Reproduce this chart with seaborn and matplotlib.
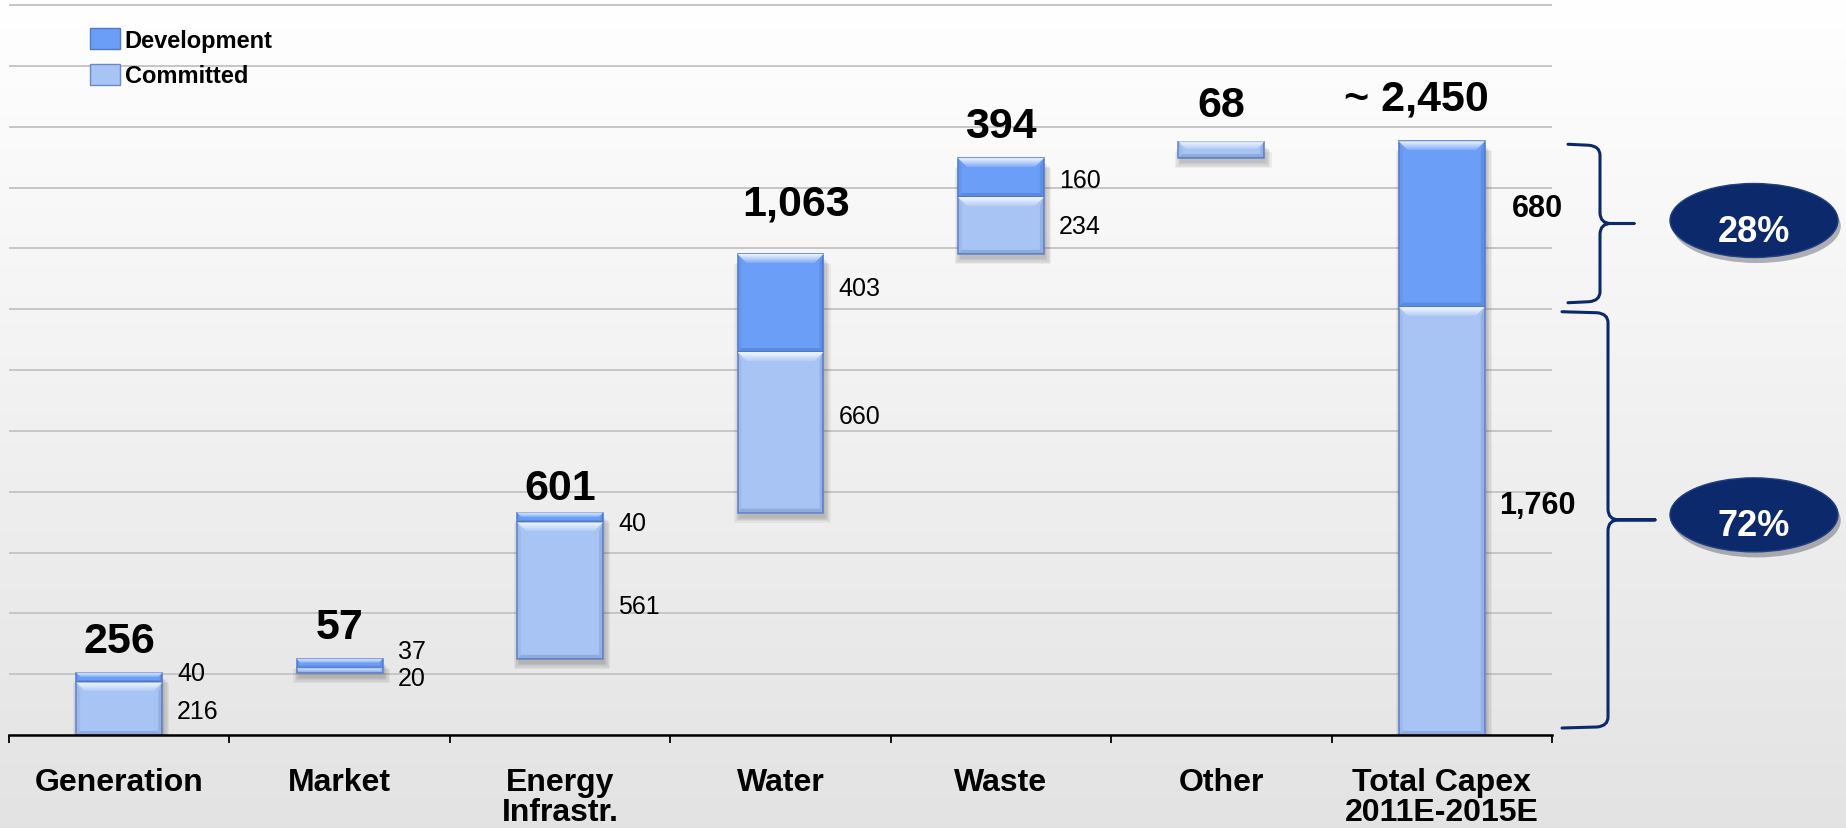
import numpy as np
import pandas as pd
import matplotlib
matplotlib.use("Agg")
import matplotlib.pyplot as plt
import seaborn as sns
from matplotlib.patches import Rectangle, Polygon, Ellipse, PathPatch, Patch
from matplotlib.path import Path
from matplotlib.transforms import IdentityTransform
import matplotlib.patheffects as pe

# ---- data -----------------------------------------------------------------
categories = ["Generation", "Market", "Energy\nInfrastr.", "Water", "Waste",
              "Other", "Total Capex\n2011E-2015E"]
committed = [216, 20, 561, 660, 234, 68, 1760]
development = [40, 37, 40, 403, 160, 0, 680]
total_label = "~ 2,450"
legend_labels = ["Development", "Committed"]

# ---- style ----------------------------------------------------------------
COMMITTED_COLOR = "#a7c4f5"
DEVELOPMENT_COLOR = "#6b9ef6"
EDGE_COLOR = "#6a89cc"
NAVY = "#0c2a6b"

sns.set_theme(style="white")
plt.rcParams["font.family"] = ["Liberation Sans", "DejaVu Sans"]
plt.rcParams["text.color"] = "black"
plt.rcParams["xtick.labelcolor"] = "black"

committed = np.array(committed, float)
development = np.array(development, float)
stack = committed + development
n = len(categories)

# floating bases: each block starts where the previous one ends, the total starts at zero
base = np.zeros(n)
base[1:n - 1] = np.cumsum(stack[:n - 2])

W, H, DPI = 1846, 829, 100
PT = 72.0 / DPI          # points per pixel
fig = plt.figure(figsize=(W / DPI, H / DPI), dpi=DPI)
fig.patch.set_facecolor("white")

# soft vertical background gradient
bg = fig.add_axes([0, 0, 1, 1], zorder=-5)
grad = np.linspace(1.0, 0.89, 256)[:, None]
bg.imshow(np.dstack([grad] * 3), aspect="auto", extent=[0, 1, 0, 1],
          interpolation="bilinear")
bg.set_axis_off()

YMAX = 3010
ax = fig.add_axes([9 / W, 1 - 736 / H, 1543 / W, 730 * YMAX / 3000 / H])
ax.set_facecolor("none")

df = pd.DataFrame({"category": categories, "committed": committed,
                   "development": development, "base": base})
BW = 0.39
sns.barplot(data=df, x="category", y="committed", bottom=df["base"].to_numpy(),
            color=COMMITTED_COLOR, saturation=1, width=BW, edgecolor=EDGE_COLOR,
            linewidth=1.2, errorbar=None, ax=ax, zorder=3)
sns.barplot(data=df, x="category", y="development",
            bottom=(df["base"] + df["committed"]).to_numpy(),
            color=DEVELOPMENT_COLOR, saturation=1, width=BW, edgecolor="#5a82d2",
            linewidth=1.2, errorbar=None, ax=ax, zorder=3)
for cont in ax.containers:
    for p in cont.patches:
        if p.get_height() <= 0:
            p.set_visible(False)

ax.set_xlim(-0.5, n - 0.5)
ax.set_ylim(0, YMAX)

sx = ax.transData.transform((1, 0))[0] - ax.transData.transform((0, 0))[0]
sy = ax.transData.transform((0, 1))[1] - ax.transData.transform((0, 0))[1]

# drop shadows under each block
for i in range(n):
    x0 = i - BW / 2
    for k in range(5):
        e = k * 1.3
        ax.add_patch(Rectangle((x0 + (2 - e) / sx, base[i] - (5 + e) / sy),
                               BW + (2 * e) / sx, stack[i],
                               facecolor="#3a3a3a", edgecolor="none",
                               alpha=0.065, zorder=2))

# bevel shading on every segment
def bevel(x0, w, y0, h):
    hp = h * sy
    if hp <= 0:
        return
    d = min(9.0, 0.45 * hp)
    s = min(4.0, 0.25 * hp)
    dx, dy = d / sx, d / sy
    ex, ey = s / sx, s / sy
    top = y0 + h
    trap = Polygon([(x0, top), (x0 + w, top), (x0 + w - dx, top - dy),
                    (x0 + dx, top - dy)], closed=True, facecolor="none",
                   edgecolor="none", transform=ax.transData)
    ax.add_patch(trap)
    g = np.ones((32, 1, 4))
    g[:, 0, 3] = np.linspace(0.9, 0.15, 32)
    im = ax.imshow(g, extent=(x0, x0 + w, top - dy, top), aspect="auto",
                   origin="upper", zorder=4, interpolation="bilinear")
    im.set_clip_path(trap)
    ax.add_patch(Polygon([(x0 + w, y0), (x0 + w, top), (x0 + w - ex, top - dy),
                          (x0 + w - ex, y0 + ey)], closed=True,
                         facecolor=NAVY, edgecolor="none", alpha=0.12, zorder=4))
    ax.add_patch(Polygon([(x0, y0), (x0, top), (x0 + ex, top - dy),
                          (x0 + ex, y0 + ey)], closed=True,
                         facecolor=NAVY, edgecolor="none", alpha=0.06, zorder=4))
    ax.add_patch(Polygon([(x0, y0), (x0 + w, y0), (x0 + w - ex, y0 + ey),
                          (x0 + ex, y0 + ey)], closed=True,
                         facecolor=NAVY, edgecolor="none", alpha=0.16, zorder=4))

for i in range(n):
    bevel(i - BW / 2, BW, base[i], committed[i])
    bevel(i - BW / 2, BW, base[i] + committed[i], development[i])

# ---- axes cosmetics -------------------------------------------------------
ax.set_yticks(np.arange(0, 3001, 250))
ax.set_yticklabels([])
ax.tick_params(axis="y", length=0)
ax.grid(axis="y", color="#c6c6c6", lw=1.4)
ax.grid(axis="x", visible=False)
ax.set_axisbelow(True)
for s in ["left", "right", "top"]:
    ax.spines[s].set_visible(False)
ax.spines["bottom"].set_color("black")
ax.spines["bottom"].set_linewidth(1.8)
ax.spines["bottom"].set_zorder(6)
ax.set_xlabel("")
ax.set_ylabel("")
ax.set_xticks(range(n))
ax.set_xticklabels(categories, fontsize=23, fontweight="bold", linespacing=1.0,
                   color="black")
ax.set_xticks(np.arange(-0.5, n), minor=True)
ax.tick_params(axis="x", which="major", length=0, pad=23)
ax.tick_params(axis="x", which="minor", length=6, width=1.3, color="black",
               direction="out", bottom=True)

# ---- value labels ---------------------------------------------------------
seg_nudge = {(0, "d"): 7, (1, "d"): 15, (1, "c"): -5, (2, "d"): -3,
             (2, "c"): -13, (3, "d"): 17, (3, "c"): 19, (4, "c"): 2,
             (6, "d"): 19, (6, "c"): 19}
for i in range(n):
    if development[i] <= 0:
        continue
    xr = i + BW / 2
    total_bar = i == n - 1
    for key, y0, h in (("c", base[i], committed[i]),
                       ("d", base[i] + committed[i], development[i])):
        txt = f"{int(h):,}"
        yc = y0 + h / 2
        ny = seg_nudge.get((i, key), 0) * PT
        if total_bar:
            ax.annotate(txt, (xr, yc), xytext=(53 * PT, ny), textcoords="offset points",
                        ha="center", va="center_baseline", fontsize=22,
                        fontweight="bold", color="black", zorder=7)
        else:
            ax.annotate(txt, (xr, yc), xytext=(15 * PT, ny), textcoords="offset points",
                        ha="left", va="center_baseline", fontsize=18,
                        color="black", zorder=7)

top_nudge = {2: -7, 3: 18, 5: 5, 6: 11}
x_nudge = {3: 16, 6: -25}
for i in range(n):
    txt = total_label if i == n - 1 else f"{int(stack[i]):,}"
    ax.annotate(txt, (i, base[i] + stack[i]),
                xytext=(x_nudge.get(i, 0) * PT, (21 + top_nudge.get(i, 0)) * PT),
                textcoords="offset points", ha="center", va="baseline",
                fontsize=31, fontweight="bold", color="black", zorder=7)

# ---- legend ---------------------------------------------------------------
handles = [Patch(facecolor=DEVELOPMENT_COLOR, edgecolor="#4f78c8", lw=1.0),
           Patch(facecolor=COMMITTED_COLOR, edgecolor="#6a89cc", lw=1.0)]
leg = ax.legend(handles, legend_labels, loc="upper left",
                bbox_to_anchor=(0.0525, 0.965), frameon=False,
                prop={"weight": "bold", "size": 17}, handlelength=1.25,
                handleheight=1.0, handletextpad=0.22, labelspacing=0.5,
                borderpad=0, borderaxespad=0)
for t in leg.get_texts():
    t.set_color("black")

# ---- braces and share ovals ----------------------------------------------
def ydisp(v):
    return ax.transData.transform((0, v))[1]

def brace(xl, xm, xt, yt, yb, r=11):
    ytip = (yt + yb) / 2
    verts = [(xl, yt), (xm - r, yt - 1), (xm, yt - 2), (xm, yt - r),
             (xm, ytip + r), (xm, ytip), (xm + r, ytip), (xt, ytip),
             (xm + r, ytip), (xm, ytip), (xm, ytip - r),
             (xm, yb + r), (xm, yb + 2), (xm - r, yb + 1), (xl, yb)]
    codes = [Path.MOVETO, Path.LINETO, Path.CURVE3, Path.CURVE3,
             Path.LINETO, Path.CURVE3, Path.CURVE3, Path.LINETO,
             Path.LINETO, Path.CURVE3, Path.CURVE3,
             Path.LINETO, Path.CURVE3, Path.CURVE3, Path.LINETO]
    fig.add_artist(PathPatch(Path(verts, codes), facecolor="none", edgecolor=NAVY,
                             lw=2.2, capstyle="round", joinstyle="round",
                             transform=IdentityTransform()))
    return ytip

total_i = n - 1
dev_total = development[total_i]
com_total = committed[total_i]
grand = dev_total + com_total
groups = [
    (1568, 1600, 1634, ydisp(com_total + dev_total) - 3, ydisp(com_total) + 4, dev_total, 3),
    (1562, 1608, 1655, ydisp(com_total) - 5, ydisp(0) + 7, com_total, 5),
]
for xl, xm, xt, yt, yb, val, lift in groups:
    ytip = brace(xl, xm, xt, yt, yb)
    cy = ytip + lift
    oval = Ellipse((1754, cy), 168, 74, facecolor=NAVY, edgecolor="#223f82", lw=1.0,
                   transform=IdentityTransform(),
                   path_effects=[pe.SimplePatchShadow(offset=(2, -4), alpha=0.3),
                                 pe.Normal()])
    fig.add_artist(oval)
    fig.text(1754, cy - 7, f"{val / grand * 100:.0f}%", transform=IdentityTransform(),
             ha="center", va="center_baseline", fontsize=26, fontweight="bold",
             color="white")

ax.set_xlim(-0.5, n - 0.5)
ax.set_ylim(0, YMAX)
fig.savefig("out.png", dpi=DPI)
